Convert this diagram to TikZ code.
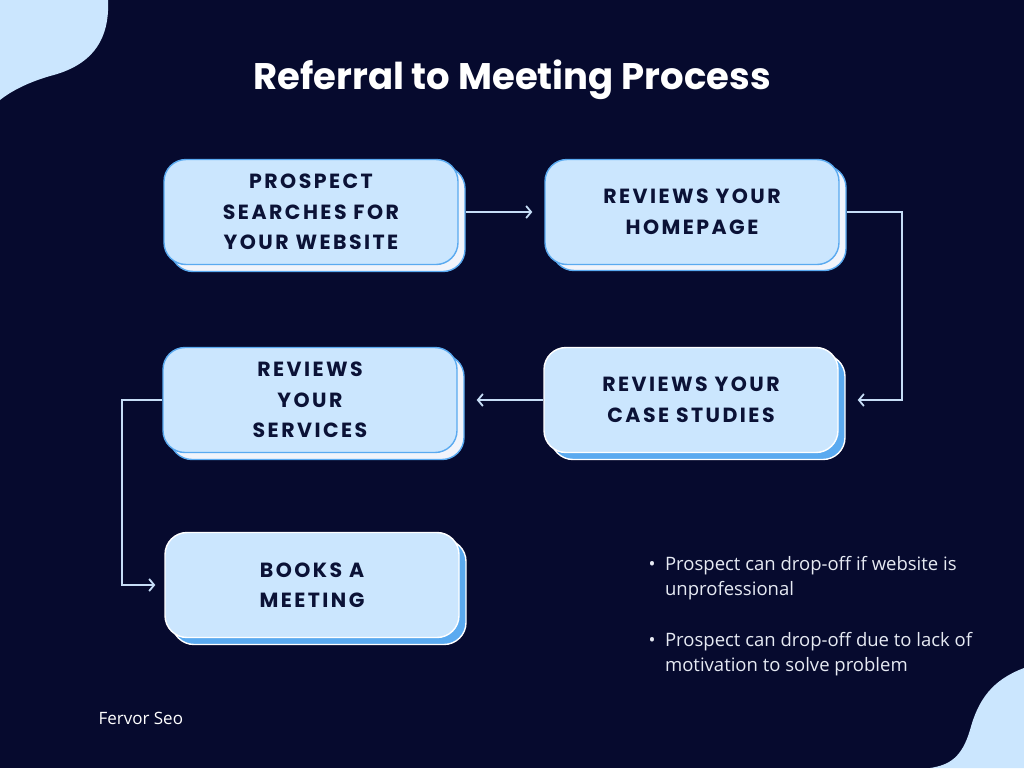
\documentclass[tikz,border=0pt]{standalone}
\usepackage{fontspec}
\usepackage{tikz}
\usetikzlibrary{
  	positioning,
  	arrows.meta,
  	calc
  }
\setmainfont{Open Sans}
\newfontfamily\titlefont{Poppins}
\newfontfamily\boxfont[LetterSpace=12]{Poppins}

\definecolor{navy}{HTML}{060A2E}
\definecolor{pale}{HTML}{CBE6FE}
\definecolor{edgeblue}{HTML}{5AAAF0}
\definecolor{backwhite}{HTML}{F1F4FB}
\definecolor{boxtext}{HTML}{0B1236}
\definecolor{linecol}{HTML}{C6DDF6}
\definecolor{notetext}{HTML}{E6EAF3}

\tikzset{
  stepbox/.style={rounded corners=22pt, minimum width=294pt, minimum height=105pt,
    fill=pale, line width=1.4pt, align=center, text=boxtext,
    font=\boxfont\bfseries\fontsize{20.5}{30.5}\selectfont},
  topbox/.style={stepbox, draw=edgeblue},
  lowbox/.style={stepbox, draw=white},
  topback/.style={stepbox, draw=edgeblue, fill=backwhite},
  lowback/.style={stepbox, draw=white, fill=edgeblue},
  note/.style={anchor=north west, text=notetext, align=left, font=\fontsize{18.5}{25}\selectfont},
  flow/.style={linecol, line width=1.8pt, -{Straight Barb[length=5pt,width=12pt]}}
}

\begin{document}
\begin{tikzpicture}[x=1pt, y=-1pt]
  	\fill[navy] (0,0) rectangle (1024,768);
  	\useasboundingbox (0,0) rectangle (1024,768);
  	% corner blobs
  	\fill[pale] (0,0) -- (108,0) .. controls (110,42) and (90,66) .. (50,76)
  	  .. controls (26,83) and (10,92) .. (0,100) -- cycle;
  	\fill[pale] (1024,668) .. controls (992,680) and (978,700) .. (970,730)
  	  .. controls (962,757) and (950,765) .. (930,768) -- (1024,768) -- cycle;
  	\node[text=white, font=\titlefont\bfseries\fontsize{37}{42}\selectfont] (title) at (512,80) {Referral to Meeting Process};
  	% back layers
  	\node[topback] (searchbk) at (318,219) {};
  	\node[topback] (homepagebk) at (699,218) {};
  	\node[topback] (servicesbk) at (317,407) {};
  	\node[lowback] (casestudiesbk) at (698,407) {};
  	\node[lowback] (meetingbk) at (319,592) {};
  	% front boxes
  	\node[topbox] (search) at (311,212) {PROSPECT\\SEARCHES FOR\\YOUR WEBSITE};
  	\node[topbox] (homepage) at (692,212) {REVIEWS YOUR\\HOMEPAGE};
  	\node[topbox] (services) at (310,400) {REVIEWS\\YOUR\\SERVICES};
  	\node[lowbox] (casestudies) at (691,400) {REVIEWS YOUR\\CASE STUDIES};
  	\node[lowbox] (meeting) at (312,585) {BOOKS A\\MEETING};
  	% connectors
  	\draw[flow, shorten >=12pt] (searchbk.east |- search.east) to (homepage.west);
  	\draw[flow, shorten >=12pt] (homepagebk.east |- homepage.east) -- ++(55,0) |- (casestudiesbk.east |- casestudies.east);
  	\draw[flow, shorten >=12pt] (casestudies.west) to (servicesbk.east |- services.east);
  	\draw[flow, shorten >=9pt] (services.west) -- ++(-40,0) |- (meeting.west);
  	% notes
  	\node[note] (note1) at (645,553)
  	  {\textbullet\ \ Prospect can drop-off if website is\\\phantom{\textbullet\ \ }unprofessional};
  	\node[note] (note2) at (645,629)
  	  {\textbullet\ \ Prospect can drop-off due to lack of\\\phantom{\textbullet\ \ }motivation to solve problem};
  	\node[anchor=west, text=white, font=\fontsize{17}{20}\selectfont] (brand) at (95,718) {Fervor Seo};
\end{tikzpicture}
\end{document}
